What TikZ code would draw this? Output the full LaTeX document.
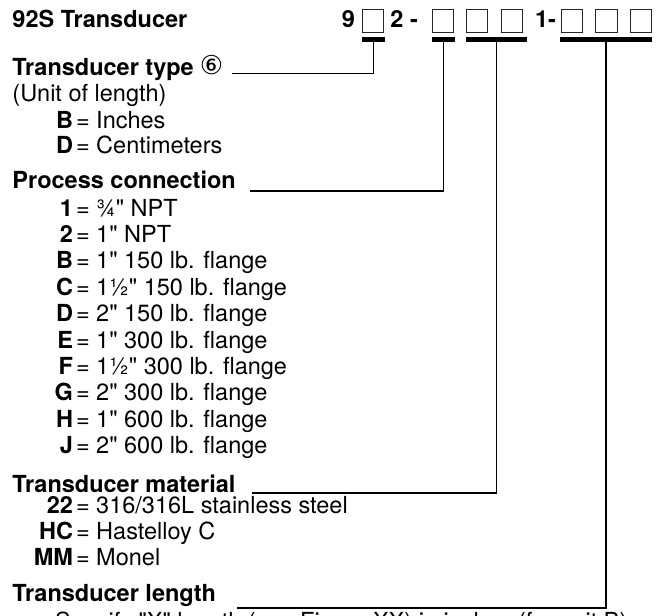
\documentclass[tikz,border=0pt]{standalone}
\usepackage{fontspec}
\setmainfont{TeX Gyre Heros}[Ligatures=TeXOff]
\newfontfamily\symfont{DejaVu Sans}
\begin{document}
\begin{tikzpicture}[x=1pt,y=-1pt,
  txt/.style={inner sep=0pt, outer sep=0pt, anchor=base west, font=\fontsize{23.5}{26}\selectfont},
  head/.style={txt, font=\fontsize{23.5}{26}\selectfont\bfseries},
  codechar/.style={inner sep=0pt, outer sep=0pt, anchor=base, font=\fontsize{23.5}{26}\selectfont\bfseries},
  slot/.style={draw=black!85, line width=0.9pt, minimum width=21.5pt, minimum height=22.5pt, inner sep=0pt},
  codebar/.style={fill=black, inner sep=0pt, outer sep=0pt, minimum height=5pt},
  lead/.style={line width=1.8pt, line join=miter},
]
\useasboundingbox (0,0) rectangle (665,616);

% title and code
\node[head] (title) at (12.5,27) {92S Transducer};
\node[codechar] (c9) at (348.5,27) {9};
\node[slot] (s1) at (373,20.75) {};
\node[codechar] (c2) at (397,27) {2};
\node[codechar] (d1) at (414,27) {-};
\node[slot] (s2) at (443,20.75) {};
\node[slot] (s3) at (477,20.75) {};
\node[slot] (s4) at (512,20.75) {};
\node[codechar] (c1) at (545.5,27) {1-};
\node[slot] (s5) at (572,20.75) {};
\node[slot] (s6) at (606.5,20.75) {};
\node[slot] (s7) at (641,20.75) {};

% bars
\node[codebar, minimum width=23pt] (bar1) at (373.5,39.5) {};
\node[codebar, minimum width=23pt] (bar2) at (443.5,39.5) {};
\node[codebar, minimum width=61pt] (bar3) at (496.5,39.5) {};
\node[codebar, minimum width=92pt] (bar4) at (606,39.5) {};

% transducer type
\node[head] (h1) at (12.5,75) {Transducer type\hspace{6pt}{\symfont\mdseries\fontsize{26}{26}\selectfont\raisebox{1pt}{⑥}}};
\node[txt] (unit) at (12.5,101) {(Unit of length)};
\node[txt] (t1) at (73,128) {\llap{\textbf{B}}\hspace{3pt}= Inches};
\node[txt] (t2) at (73,153) {\llap{\textbf{D}}\hspace{3pt}= Centimeters};

% process connection
\node[head] (h2) at (12.5,188) {Process connection};
\node[txt] (p1) at (73,216) {\llap{\textbf{1}}\hspace{3pt}= ¾" NPT};
\node[txt] (p2) at (73,242.4) {\llap{\textbf{2}}\hspace{3pt}= 1" NPT};
\node[txt] (p3) at (73,268.8) {\llap{\textbf{B}}\hspace{3pt}= 1" 150 lb. flange};
\node[txt] (p4) at (73,295.2) {\llap{\textbf{C}}\hspace{3pt}= 1½" 150 lb. flange};
\node[txt] (p5) at (73,321.6) {\llap{\textbf{D}}\hspace{3pt}= 2" 150 lb. flange};
\node[txt] (p6) at (73,348) {\llap{\textbf{E}}\hspace{3pt}= 1" 300 lb. flange};
\node[txt] (p7) at (73,374.4) {\llap{\textbf{F}}\hspace{3pt}= 1½" 300 lb. flange};
\node[txt] (p8) at (73,400.8) {\llap{\textbf{G}}\hspace{3pt}= 2" 300 lb. flange};
\node[txt] (p9) at (73,427.2) {\llap{\textbf{H}}\hspace{3pt}= 1" 600 lb. flange};
\node[txt] (p10) at (73,453.6) {\llap{\textbf{J}}\hspace{3pt}= 2" 600 lb. flange};

% material
\node[head] (h3) at (12.5,492) {Transducer material};
\node[txt] (m1) at (73,513) {\llap{\textbf{22}}\hspace{3pt}= 316/316L stainless steel};
\node[txt] (m2) at (73,539) {\llap{\textbf{HC}}\hspace{3pt}= Hastelloy C};
\node[txt] (m3) at (73,565) {\llap{\textbf{MM}}\hspace{3pt}= Monel};

% length
\node[head] (h4) at (12.5,601) {Transducer length};
\node[txt] (spec) at (55,629) {Specify "X" length (see Figure XX) in inches (for unit B) or centimeters (for unit D)};

% leader lines
\coordinate (l1) at (232,73.5);
\coordinate (l2) at (250,191);
\coordinate (l3) at (252,493);
\coordinate (l4) at (237,608);
\draw[lead] (bar1.south) |- (l1);
\draw[lead] (bar2.south) |- (l2);
\draw[lead] (bar3.south) |- (l3);
\draw[lead] (bar4.south) |- (l4);
\end{tikzpicture}
\end{document}
